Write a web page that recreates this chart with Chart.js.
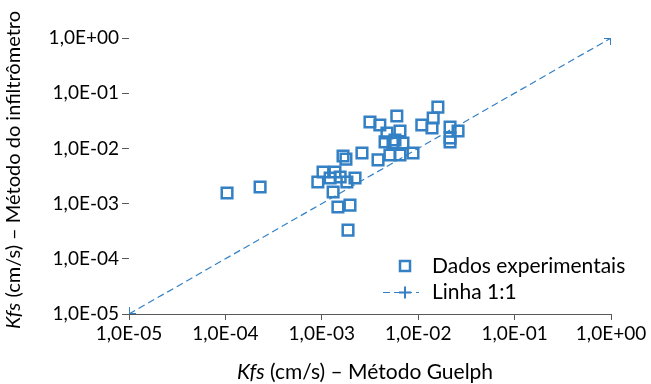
<!DOCTYPE html>
<html>
<head>
<meta charset="utf-8">
<script src="https://cdn.jsdelivr.net/npm/chart.js@4.4.1/dist/chart.umd.min.js"></script>
<style>
  html, body { margin: 0; padding: 0; background: #fff; }
  #wrap { width: 651px; height: 384px; position: relative; }
</style>
</head>
<body>
<div id="wrap"><canvas id="grafico" width="651" height="384"></canvas></div>
<script>
  // Kfs Guelph (x) vs Kfs infiltrômetro (y), cm/s
  const guelph = [
    1.04e-4, 2.29e-4, 9.1e-4, 1.03e-3, 1.37e-3, 1.22e-3, 1.55e-3, 1.82e-3, 2.21e-3, 1.31e-3,
    1.47e-3, 1.96e-3, 1.87e-3, 1.78e-3, 1.66e-3, 2.61e-3, 3.16e-3, 4.0e-3, 6.0e-3, 4.74e-3,
    6.47e-3, 4.53e-3, 5.48e-3, 6.95e-3, 3.83e-3, 5.09e-3, 6.47e-3, 8.83e-3, 5.74e-3, 1.09e-2,
    1.39e-2, 1.43e-2, 1.60e-2, 2.14e-2, 2.59e-2, 2.14e-2, 2.14e-2
  ];
  const infiltrometro = [
    1.56e-3, 2.0e-3, 2.46e-3, 3.74e-3, 3.74e-3, 2.91e-3, 3.03e-3, 2.46e-3, 2.91e-3, 1.62e-3,
    8.7e-4, 9.4e-4, 3.3e-4, 6.4e-3, 7.3e-3, 8.25e-3, 3.0e-2, 2.65e-2, 3.86e-2, 1.9e-2,
    2.07e-2, 1.31e-2, 1.25e-2, 1.25e-2, 6.2e-3, 7.6e-3, 7.6e-3, 8.25e-3, 1.42e-2, 2.65e-2,
    2.34e-2, 3.55e-2, 5.6e-2, 2.44e-2, 2.07e-2, 1.54e-2, 1.31e-2
  ];
  const linhaX = [1e-5, 1];
  const linhaY = [1e-5, 1];
  const decadas = [1e-5, 1e-4, 1e-3, 1e-2, 1e-1, 1];

  const AZUL = '#3380C4';
  const FONTE = 'Lato, "Noto Sans", sans-serif';

  function fmtExp(v) {
    const e = Math.round(Math.log10(v));
    return '1,0E' + (e < 0 ? '-' : '+') + String(Math.abs(e)).padStart(2, '0');
  }

  function textoMisto(ctx, partes, x, y) {
    let total = 0;
    partes.forEach(p => { ctx.font = p.font; total += ctx.measureText(p.t).width; });
    let cx = x - total / 2;
    partes.forEach(p => {
      ctx.font = p.font;
      ctx.fillText(p.t, cx, y);
      cx += ctx.measureText(p.t).width;
    });
  }

  // titulos dos eixos + legenda
  const extras = {
    id: 'extras',
    afterDraw(chart) {
      const ctx = chart.ctx;
      ctx.save();
      ctx.fillStyle = '#000';
      ctx.textBaseline = 'middle';
      textoMisto(ctx, [
        { t: 'Kfs', font: 'italic 21px ' + FONTE },
        { t: ' (cm/s) – Método Guelph', font: '21px ' + FONTE }
      ], 365, 372);
      ctx.translate(14, 170);
      ctx.rotate(-Math.PI / 2);
      textoMisto(ctx, [
        { t: 'Kfs', font: 'italic 20px ' + FONTE },
        { t: ' (cm/s) – Método do infiltrômetro', font: '20px ' + FONTE }
      ], 0, 0);
      ctx.restore();

      // legenda
      ctx.save();
      ctx.strokeStyle = AZUL;
      ctx.lineWidth = 2.5;
      ctx.strokeRect(400, 261, 10, 10);
      ctx.lineWidth = 1.2;
      ctx.setLineDash([7, 4]);
      ctx.beginPath(); ctx.moveTo(383, 292.5); ctx.lineTo(419, 292.5); ctx.stroke();
      ctx.setLineDash([]);
      ctx.lineWidth = 2;
      ctx.beginPath();
      ctx.moveTo(399, 292.5); ctx.lineTo(411, 292.5);
      ctx.moveTo(405, 286.5); ctx.lineTo(405, 298.5);
      ctx.stroke();
      ctx.fillStyle = '#000';
      ctx.font = '21px ' + FONTE;
      ctx.textBaseline = 'middle';
      ctx.fillText('Dados experimentais', 432, 266);
      ctx.fillText('Linha 1:1', 432, 292);
      ctx.restore();
    }
  };

  const pontos = guelph.map((x, i) => ({ x: x, y: infiltrometro[i] }));
  const linha = linhaX.map((x, i) => ({ x: x, y: linhaY[i] }));

  new Chart(document.getElementById('grafico'), {
    type: 'scatter',
    data: {
      datasets: [
        {
          label: 'Linha 1:1',
          data: linha,
          showLine: true,
          borderColor: AZUL,
          borderWidth: 1.2,
          borderDash: [7, 4],
          pointStyle: 'cross',
          pointRadius: 7,
          pointBorderWidth: 2,
          pointBorderColor: AZUL
        },
        {
          label: 'Dados experimentais',
          data: pontos,
          pointStyle: 'rect',
          pointRadius: 7.5,
          pointBorderWidth: 2.5,
          pointBorderColor: AZUL,
          pointBackgroundColor: 'rgba(0,0,0,0)'
        }
      ]
    },
    options: {
      responsive: false,
      animation: false,
      devicePixelRatio: 1,
      layout: { padding: { left: 0, right: 40, top: 38, bottom: 0 } },
      plugins: { legend: { display: false }, tooltip: { enabled: false } },
      scales: {
        x: {
          type: 'logarithmic',
          min: 1e-5, max: 1,
          afterBuildTicks: s => { s.ticks = decadas.map(v => ({ value: v })); },
          afterFit: s => { s.height = 70; },
          grid: { drawOnChartArea: false, tickLength: 6, color: '#595959', lineWidth: 1 },
          border: { display: true, color: '#595959', width: 1 },
          ticks: { color: '#000', font: { family: FONTE, size: 19 }, padding: 2, maxRotation: 0, autoSkip: false, callback: v => fmtExp(v) }
        },
        y: {
          type: 'logarithmic',
          min: 1e-5, max: 1,
          afterBuildTicks: s => { s.ticks = decadas.map(v => ({ value: v })); },
          afterFit: s => { s.width = 129; },
          grid: { drawOnChartArea: false, tickLength: 7, color: '#595959', lineWidth: 1 },
          border: { display: false },
          ticks: { color: '#000', font: { family: FONTE, size: 19 }, padding: 3, autoSkip: false, callback: v => fmtExp(v) }
        }
      }
    },
    plugins: [extras]
  });
</script>
</body>
</html>
